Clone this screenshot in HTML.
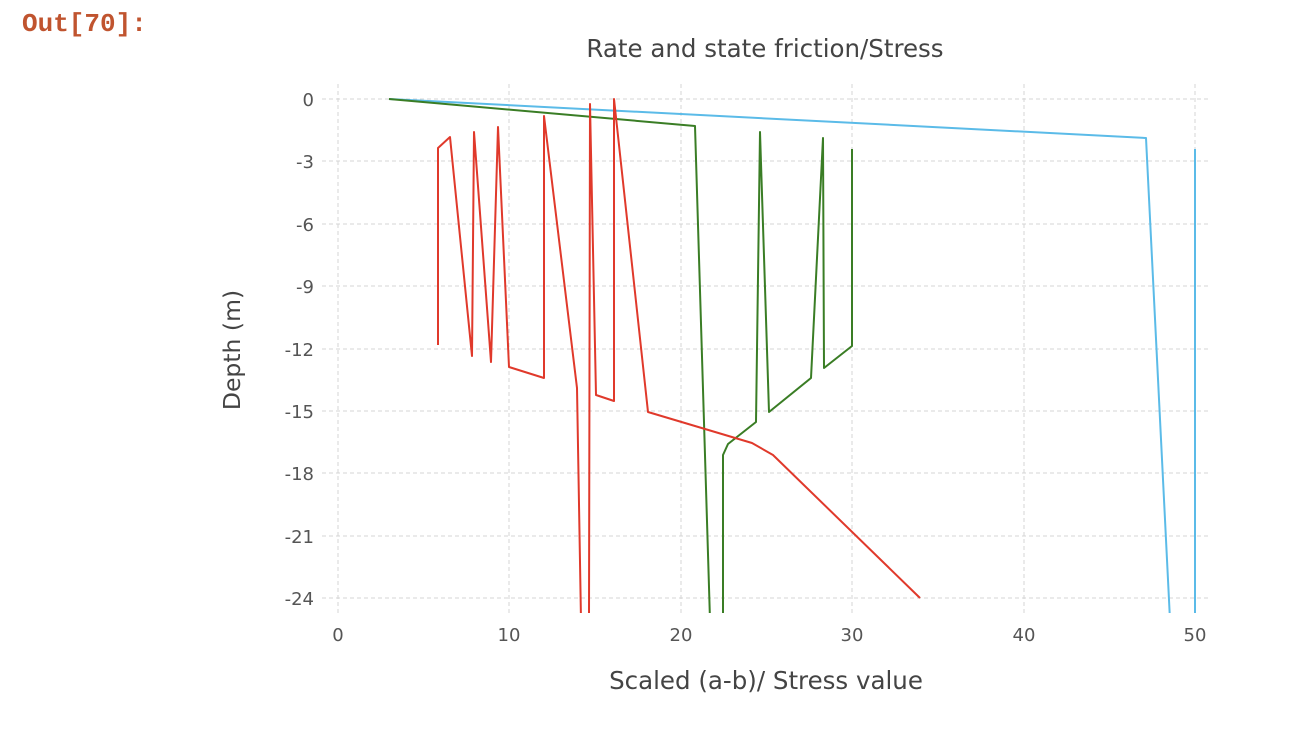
<!DOCTYPE html>
<html><head><style>
body{margin:0;background:#fff;width:1310px;height:742px;overflow:hidden;}
svg text{font-family:"DejaVu Sans","Liberation Sans",sans-serif;}
</style></head><body>
<svg width="1310" height="742" viewBox="0 0 1310 742">
<text x="22" y="31" style="font-family:'Liberation Mono',monospace;font-weight:bold;font-size:26px" fill="#c0542f">Out[70]:</text>
<text x="765" y="57" text-anchor="middle" font-size="24.5" fill="#444">Rate and state friction/Stress</text>
<g stroke="#d4d4d4" stroke-width="1" stroke-dasharray="4,3">
<line x1="322" x2="1210" y1="99" y2="99"/><line x1="322" x2="1210" y1="161" y2="161"/>
<line x1="322" x2="1210" y1="224" y2="224"/><line x1="322" x2="1210" y1="286" y2="286"/>
<line x1="322" x2="1210" y1="349" y2="349"/><line x1="322" x2="1210" y1="411" y2="411"/>
<line x1="322" x2="1210" y1="473" y2="473"/><line x1="322" x2="1210" y1="536" y2="536"/>
<line x1="322" x2="1210" y1="598" y2="598"/>
<line x1="338" x2="338" y1="84" y2="614"/><line x1="509" x2="509" y1="84" y2="614"/>
<line x1="681" x2="681" y1="84" y2="614"/><line x1="852" x2="852" y1="84" y2="614"/>
<line x1="1024" x2="1024" y1="84" y2="614"/><line x1="1195" x2="1195" y1="84" y2="614"/>
</g>
<g font-size="18" fill="#555" text-anchor="end">
<text x="314" y="106">0</text><text x="314" y="168">-3</text><text x="314" y="231">-6</text>
<text x="314" y="293">-9</text><text x="314" y="356">-12</text><text x="314" y="418">-15</text>
<text x="314" y="480">-18</text><text x="314" y="543">-21</text><text x="314" y="605">-24</text>
</g>
<g font-size="18" fill="#555" text-anchor="middle">
<text x="338" y="641">0</text><text x="509" y="641">10</text><text x="681" y="641">20</text>
<text x="852" y="641">30</text><text x="1024" y="641">40</text><text x="1195" y="641">50</text>
</g>
<text x="766" y="689" text-anchor="middle" font-size="24.5" fill="#444">Scaled (a-b)/ Stress value</text>
<text transform="translate(240,350) rotate(-90)" text-anchor="middle" font-size="23.5" fill="#444">Depth (m)</text>
<defs><clipPath id="c"><rect x="320" y="85" width="895" height="528"/></clipPath></defs>
<g clip-path="url(#c)" fill="none" stroke-width="2" stroke-linejoin="round">
<polyline stroke="#5bbbe8" points="389,99 1146,138 1170,620"/>
<polyline stroke="#5bbbe8" points="1195,620 1195,149"/>
<polyline stroke="#3a7d25" points="389,99 695,126 710,620"/>
<polyline stroke="#3a7d25" points="723,620 723,455 728,444 756,422 760,132 769,412 811,378 823,138 824,368 852,346 852,149"/>
<polyline stroke="#e0392b" points="438,345 438,148 450,137 472,356 474,132 491,362 498,127 509,367 544,378 544,116 577,388 581,620"/>
<polyline stroke="#e0392b" points="589,620 590,104 596,395 614,401 614,99 648,412 752,443 773,455 920,598"/>
</g>
</svg>
</body></html>
